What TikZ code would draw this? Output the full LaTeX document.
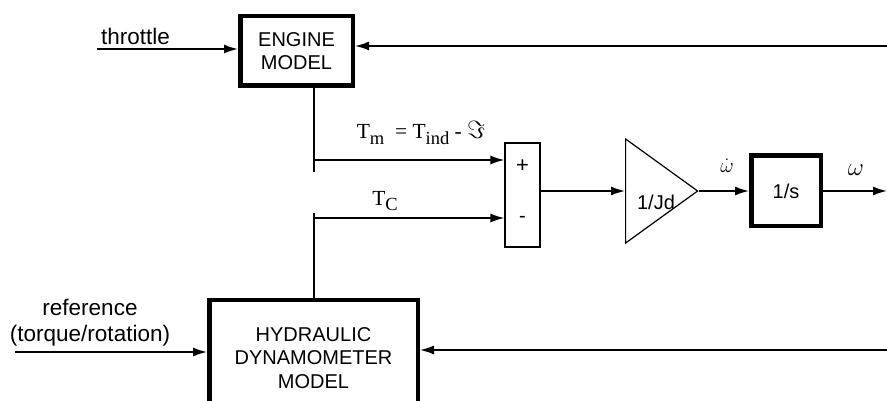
\documentclass[tikz,border=0pt]{standalone}
\usepackage[no-math]{fontspec}
\setmainfont{Liberation Sans}
\newfontfamily\seriffont{Liberation Serif}
\newcommand{\lowsub}[1]{\raisebox{-5.5pt}{\fontsize{18.5}{21}\selectfont #1}}
\usetikzlibrary{positioning, arrows.meta, shapes.geometric}

\begin{document}
\begin{tikzpicture}[x=1pt, y=-1pt,
    block/.style={draw, line width=4.5pt, align=center, inner sep=0pt, font=\fontsize{20}{23.5}\selectfont},
    sumbox/.style={draw, line width=1.2pt, minimum width=35pt, minimum height=104pt, inner sep=0pt},
    gainbox/.style={draw, line width=1.2pt, isosceles triangle, isosceles triangle stretches,
        minimum width=104pt, minimum height=72pt, inner sep=0pt, shape border rotate=0},
    wire/.style={line width=1.6pt},
    sig/.style={wire, -{Latex[length=14pt, width=9pt]}},
    lbl/.style={font=\fontsize{22.5}{26}\selectfont},
    mlbl/.style={font=\seriffont\fontsize{21.5}{25}\selectfont}]
  \useasboundingbox (0,0) rectangle (887,401);

  % blocks
  \node[block, minimum width=112.5pt, minimum height=69.5pt] (engine) at (296.5,51) {ENGINE\\MODEL};
  \node[sumbox] (sum) at (522.5,195) {};
  \node[gainbox, anchor=west] (gain) at (625,191) {};
  \node[block, minimum width=69.5pt, minimum height=70.5pt] (integ) at (786,191) {1/s};
  \node[block, minimum width=208.5pt, minimum height=116pt] (dyno) at (313.5,358) {HYDRAULIC\\DYNAMOMETER\\MODEL};

  % signs and gain text
  \node[font=\fontsize{22}{26}\selectfont] (plus) at (522.5,166) {+};
  \node[font=\fontsize{20}{24}\selectfont] (minus) at (522.5,219) {-};
  \node[font=\fontsize{20}{24}\selectfont] (gaintxt) at (656,202) {1/Jd};

  % free ends and taps
  \coordinate (thr) at (97,49);
  \coordinate (ref) at (15,352);
  \coordinate (fbtop) at (887,46);
  \coordinate (fbbot) at (887,350);
  \coordinate (out) at (887,191);
  \coordinate (tm) at (314,160);
  \coordinate (tc) at (314,218);

  % torque lines
  \draw[wire] (engine.south -| tm) -- ([yshift=-12pt]tm);
  \draw[wire] ([yshift=5pt]tc) -- (dyno.north -| tc);
  \draw[sig] (tm) -- (tm -| sum.west);
  \draw[sig] (tc) -- (tc -| sum.west);

  % forward path
  \draw[sig] (sum.east |- gain.west) -- (gain.west);
  \draw[sig] (gain.apex) -- (integ.west);
  \draw[sig] (integ.east) -- (out);

  % inputs and feedback
  \draw[sig] (thr) -- (thr -| engine.west);
  \draw[sig] (fbtop) -- (fbtop -| engine.east);
  \draw[sig] (ref) -- (ref -| dyno.west);
  \draw[sig] (fbbot) -- (fbbot -| dyno.east);

  % labels
  \node[lbl, anchor=south west, inner sep=4pt] (thrlbl) at (thr) {throttle};
  \node[lbl, align=center] (reflbl) at (90,323) {reference\\(torque/rotation)};
  \node[mlbl] (tmlbl) at (421,133) {T\lowsub{m}\ \ = T\lowsub{ind}\ - {\fontsize{25}{28}\selectfont$\Im$}};
  \node[mlbl] (tclbl) at (385,201) {T\lowsub{C}};
  \node[font=\fontsize{22}{26}\selectfont] (wdot) at (727,166) {$\dot\omega$};
  \node[font=\fontsize{25}{28}\selectfont] (w) at (856,170) {$\omega$};
\end{tikzpicture}
\end{document}
